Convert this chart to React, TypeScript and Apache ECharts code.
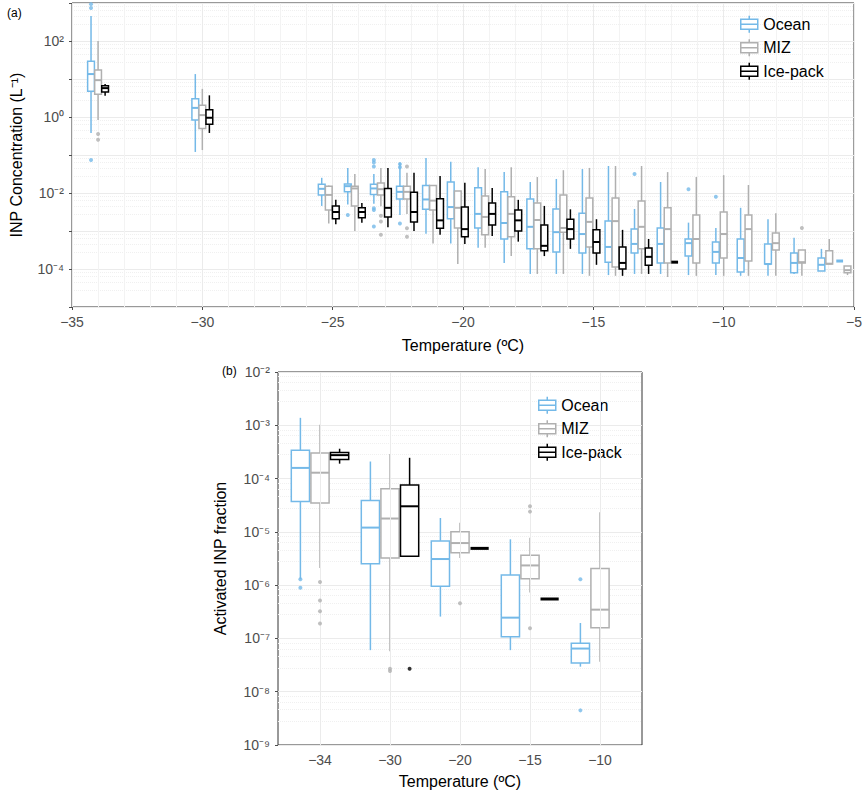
import { useEffect, useRef } from "react";
import * as echarts from "echarts";

// panel (a): [group temperature, low, q1, median, q3, high] as log10 exponents
const oceanA = [
  [-34, -0.42, 0.68, 1.13, 1.47, 2.66], [-30, -0.92, -0.08, 0.24, 0.48, 1.13],
  [-25.15, -2.34, -2.05, -1.89, -1.77, -1.6], [-24.15, -2.3, -1.97, -1.82, -1.76, -1.34],
  [-23.15, -2.28, -2.04, -1.88, -1.77, -1.5], [-22.15, -2.58, -2.16, -1.97, -1.82, -1.2],
  [-21.15, -3.07, -2.43, -2.17, -1.8, -1.08], [-20.2, -3.33, -2.68, -2.37, -1.71, -1.18],
  [-19.15, -3.44, -2.92, -2.55, -1.86, -1.32], [-18.15, -3.84, -3.21, -2.79, -1.97, -1.45],
  [-17.15, -4.13, -3.47, -2.89, -2.16, -1.71], [-16.15, -4.13, -3.55, -3.03, -2.42, -1.63],
  [-15.15, -4.13, -3.58, -3.08, -2.53, -1.37], [-14.15, -4.16, -3.82, -3.42, -2.74, -1.29],
  [-13.15, -4.13, -3.58, -3.34, -2.95, -2.42], [-12.15, -4.13, -3.84, -3.34, -2.92, -1.71],
  [-11.2, -4.16, -3.66, -3.32, -3.21, -2.78], [-10.15, -4.16, -3.84, -3.55, -3.29, -2.92],
  [-9.2, -4.18, -4.08, -3.71, -3.21, -2.39], [-8.15, -4.18, -3.87, -3.87, -3.34, -2.69],
  [-7.15, -4.13, -4.1, -3.84, -3.58, -3.18], [-6.1, -4.05, -4.05, -3.89, -3.71, -3.47],
  [-5.4, -3.79, -3.79, -3.79, -3.79, -3.79],
];
const mizA = [
  [-34, -0.08, 0.6, 0.97, 1.24, 2.0], [-30, -0.87, -0.3, 0.05, 0.31, 0.74],
  [-25.15, -2.8, -2.45, -2.05, -1.82, -1.8], [-24.15, -3.0, -2.34, -1.88, -1.82, -1.5],
  [-23.15, -2.35, -2.05, -1.9, -1.74, -1.34], [-22.15, -2.55, -2.16, -1.97, -1.82, -1.47],
  [-21.15, -3.33, -2.45, -2.2, -1.8, -1.8], [-20.2, -3.87, -2.92, -2.39, -1.95, -1.95],
  [-19.15, -3.44, -3.1, -2.63, -2.08, -1.37], [-18.15, -3.66, -3.15, -2.55, -2.1, -1.32],
  [-17.15, -4.13, -3.47, -2.71, -2.26, -1.58], [-16.15, -4.13, -3.03, -2.92, -2.05, -1.4],
  [-15.15, -4.18, -3.42, -2.76, -2.13, -1.34], [-14.15, -4.18, -3.95, -2.74, -2.13, -1.29],
  [-13.15, -4.13, -3.47, -2.89, -2.21, -1.29], [-12.15, -4.21, -3.84, -2.95, -2.39, -1.45],
  [-11.2, -4.18, -3.84, -3.21, -2.58, -1.58], [-10.15, -4.18, -3.71, -3.08, -2.5, -1.53],
  [-9.2, -4.18, -3.79, -2.95, -2.58, -1.79], [-8.15, -4.18, -3.5, -3.32, -3.05, -2.53],
  [-7.15, -4.18, -3.84, -3.82, -3.5, -3.5], [-6.1, -3.87, -3.87, -3.86, -3.52, -3.21],
  [-5.4, -4.16, -4.1, -4.03, -3.92, -3.92],
];
const iceA = [
  [-34, 0.56, 0.66, 0.76, 0.82, 0.87], [-30, -0.42, -0.19, -0.02, 0.19, 0.57],
  [-25.15, -2.82, -2.68, -2.5, -2.34, -2.18], [-24.15, -2.78, -2.65, -2.5, -2.39, -2.26],
  [-23.15, -2.9, -2.63, -2.39, -1.88, -1.34], [-22.15, -3.0, -2.76, -2.5, -1.98, -1.47],
  [-21.15, -3.1, -2.93, -2.72, -2.15, -1.55], [-20.2, -3.34, -3.15, -2.95, -2.37, -1.73],
  [-19.15, -3.13, -2.84, -2.55, -2.26, -1.87], [-18.15, -3.28, -3.0, -2.72, -2.45, -2.18],
  [-17.15, -3.66, -3.52, -3.39, -2.84, -2.34], [-16.15, -3.47, -3.21, -2.95, -2.69, -2.43],
  [-15.15, -3.89, -3.58, -3.29, -2.97, -2.69], [-14.15, -4.18, -4.0, -3.84, -3.42, -2.97],
  [-13.15, -4.13, -3.9, -3.68, -3.45, -3.21], [-12.15, -3.82, -3.82, -3.82, -3.82, -3.82],
];
const oceanOutA = [
  [-34, 2.97], [-34, 2.87], [-34, -1.13], [-24.15, -2.58], [-23.15, -1.13], [-23.15, -1.2],
  [-23.15, -1.3], [-23.15, -2.4], [-23.15, -2.45], [-23.15, -2.88], [-22.15, -1.24],
  [-22.15, -1.32], [-22.15, -2.8], [-13.15, -1.5], [-11.2, -1.9], [-10.15, -2.1],
];
const mizOutA = [
  [-34, -0.45], [-34, -0.6], [-23.15, -2.6], [-23.15, -2.75], [-23.15, -3.1],
  [-22.15, -1.3], [-22.15, -2.93], [-22.15, -3.15], [-7.15, -2.92],
];

// panel (b): categories
const tempsB = ["-34", "-30", "-20", "-15", "-10"];
const oceanB = [
  [1, -5.89, -4.43, -3.8, -3.47, -2.86], [2, -7.22, -5.6, -4.92, -4.41, -3.68],
  [3, -6.59, -6.02, -5.51, -5.17, -4.74], [4, -7.22, -6.97, -6.61, -5.81, -5.14],
  [5, -7.53, -7.46, -7.19, -7.09, -6.71],
];
const mizB = [
  [1, -5.68, -4.46, -3.89, -3.52, -2.99], [2, -7.24, -5.49, -4.75, -4.19, -3.54],
  [3, -5.49, -5.39, -5.21, -5.0, -4.83], [4, -6.14, -5.88, -5.63, -5.44, -5.11],
  [5, -7.44, -6.8, -6.46, -5.69, -4.63],
];
const iceB = [
  [1, -3.72, -3.64, -3.56, -3.51, -3.44], [2, -5.46, -5.46, -4.52, -4.12, -3.61],
  [3, -5.31, -5.31, -5.31, -5.31, -5.31], [4, -6.26, -6.26, -6.26, -6.26, -6.26],
];
const oceanOutB = [[1, -5.89], [1, -6.05], [5, -5.89], [5, -8.35]];
const mizOutB = [[1, -5.94], [1, -6.29], [1, -6.49], [1, -6.72], [2, -7.57], [2, -7.61], [3, -6.34], [4, -4.52], [4, -4.62], [4, -6.81]];
const iceOutB = [[2, -7.57]];

const COLORS = { Ocean: "#74b9e8", MIZ: "#b0b0b0", "Ice-pack": "#000000" };
const SUP: Record<string, string> = { "-": "⁻", "0": "⁰", "1": "¹", "2": "²", "3": "³", "4": "⁴", "5": "⁵", "6": "⁶", "7": "⁷", "8": "⁸", "9": "⁹" };
const sup = (n: number) => String(n).split("").map((c) => SUP[c]).join("");
const minus = (v: number | string) => String(v).replace("-", "\u2212");
const FONT = "Liberation Sans";

const App = () => {
  const ref = useRef<HTMLDivElement>(null);

  useEffect(() => {
    document.body.style.margin = "0";
    const chart = echarts.init(ref.current!, null, { renderer: "svg" });

    // dodge offsets depending on which series are present in each group
    const sets = [oceanA, mizA, iceA];
    const dodgeA = (si: number, x: number) => {
      const present = sets.map((s) => s.some((d) => d[0] === x));
      const idx = present.slice(0, si).filter(Boolean).length;
      const n = present.filter(Boolean).length;
      if (n === 3) return x + (idx - 1) * 0.27;
      if (n === 2) return x + (idx - 0.5) * 0.3;
      return x + 0.27;
    };
    const boxes = (arr: number[][], si: number, a: boolean) =>
      arr.map((d) => [a ? dodgeA(si, d[0]) : d[0] + (si - 1) * 0.28, ...d.slice(1).map((e) => Math.pow(10, e))]);
    const pts = (arr: number[][], si: number, a: boolean) =>
      arr.map((d) => [a ? dodgeA(si, d[0]) : d[0] + (si - 1) * 0.28, Math.pow(10, d[1])]);

    const makeRender = (color: string, w: number) => (params: any, api: any) => {
      const x = api.value(0);
      const [lo, q1, md, q3, hi] = [1, 2, 3, 4, 5].map((i) => api.value(i));
      const c = (v: number) => api.coord([x, v]);
      const half = (api.coord([x + w / 2, md])[0] - api.coord([x - w / 2, md])[0]) / 2;
      const cx = c(md)[0];
      const style = { stroke: color, lineWidth: 1.5, fill: "none" };
      if (q1 === q3) {
        return {
          type: "rect",
          shape: { x: cx - half, y: c(md)[1] - 1.5, width: half * 2, height: 3 },
          style: { fill: color },
        };
      }
      return {
        type: "group",
        children: [
          { type: "line", shape: { x1: cx, y1: c(hi)[1], x2: cx, y2: c(q3)[1] }, style },
          { type: "line", shape: { x1: cx, y1: c(q1)[1], x2: cx, y2: c(lo)[1] }, style },
          { type: "rect", shape: { x: cx - half, y: c(q3)[1], width: half * 2, height: c(q1)[1] - c(q3)[1] }, style: { ...style, fill: "#fff" } },
          { type: "line", shape: { x1: cx - half, y1: c(md)[1], x2: cx + half, y2: c(md)[1] }, style: { ...style, lineWidth: 2 } },
        ],
      };
    };

    const names = ["Ocean", "MIZ", "Ice-pack"] as const;
    const boxSeries = (arr: number[][], si: number, gi: number, w: number) => ({
      type: "custom",
      name: names[si],
      xAxisIndex: gi,
      yAxisIndex: gi,
      data: boxes(arr, si, gi === 0),
      encode: { x: 0, y: [1, 2, 3, 4, 5] },
      itemStyle: { color: COLORS[names[si]] },
      renderItem: makeRender(COLORS[names[si]], w),
      clip: true,
      z: 2 + si,
    });
    const outSeries = (arr: number[][], si: number, gi: number) => ({
      type: "scatter",
      name: names[si] + " outliers",
      xAxisIndex: gi,
      yAxisIndex: gi,
      data: pts(arr, si, gi === 0),
      symbolSize: 4,
      itemStyle: { color: COLORS[names[si]] },
      z: 5,
    });

    const labelStyle = { color: "#4d4d4d", fontSize: 14, fontFamily: FONT };
    const nameStyle = { color: "#000", fontSize: 16, fontFamily: FONT };
    const logAxis = (gi: number, min: number, max: number, even: boolean, name: string) => ({
      type: "log",
      logBase: 10,
      gridIndex: gi,
      min,
      max,
      name,
      nameLocation: "middle",
      nameGap: 48,
      nameTextStyle: nameStyle,
      axisLine: { show: false },
      axisTick: { show: true, length: 3, lineStyle: { color: "#4d4d4d" } },
      axisLabel: {
        ...labelStyle,
        formatter: (v: number) => {
          const e = Math.round(Math.log10(v));
          return even && e % 2 !== 0 ? "" : "10" + sup(e);
        },
      },
      splitLine: { lineStyle: { color: "#ebebeb" } },
      minorTick: { show: false, splitNumber: 5 },
      minorSplitLine: { show: true, lineStyle: { color: "#f0f0f0", type: "dotted" } },
    });
    const legendIcon = "path://M10,0 V4 M0,4 H20 V16 H0 Z M0,10 H20 M10,16 V20";
    const legend = (left: number, top: number) => ({
      left,
      top,
      orient: "vertical",
      itemGap: 5,
      itemWidth: 18,
      itemHeight: 17,
      textStyle: { fontSize: 16, color: "#000", fontFamily: FONT },
      data: names.map((n) => ({ name: n, icon: legendIcon, itemStyle: { color: "#fff", borderColor: COLORS[n], borderWidth: 1.5 } })),
    });

    chart.setOption({
      animation: false,
      backgroundColor: "#fff",
      legend: [legend(735, 10), legend(533, 391)],
      title: [
        { text: "(a)", left: 2, top: 2, textStyle: { fontSize: 12, fontWeight: "normal", color: "#000", fontFamily: FONT } },
        { text: "(b)", left: 217, top: 360, textStyle: { fontSize: 12, fontWeight: "normal", color: "#000", fontFamily: FONT } },
      ],
      grid: [
        { left: 65, top: 3, width: 797, height: 304, show: true, borderColor: "#333", borderWidth: 1 },
        { left: 278, top: 372, width: 364, height: 374, show: true, borderColor: "#333", borderWidth: 1 },
      ],
      xAxis: [
        {
          type: "value", gridIndex: 0, min: -35, max: -5, interval: 5,
          name: "Temperature (ºC)", nameLocation: "middle", nameGap: 30, nameTextStyle: nameStyle,
          axisLine: { show: false }, axisTick: { length: 3, lineStyle: { color: "#4d4d4d" } },
          axisLabel: { ...labelStyle, formatter: (v: number) => minus(v) },
          splitLine: { lineStyle: { color: "#ebebeb" } },
          minorTick: { show: false, splitNumber: 5 },
          minorSplitLine: { show: true, lineStyle: { color: "#f3f3f3" } },
        },
        {
          type: "value", gridIndex: 1, min: 0.4, max: 5.6,
          name: "Temperature (ºC)", nameLocation: "middle", nameGap: 28, nameTextStyle: nameStyle,
          axisLine: { show: false }, axisTick: { show: false },
          axisLabel: {
            ...labelStyle,
            customValues: [1, 2, 3, 4, 5],
            formatter: (v: number) => minus(tempsB[Math.round(v) - 1] ?? ""),
          },
          splitLine: { show: false },
        },
      ],
      yAxis: [
        logAxis(0, 1e-5, 1e3, true, "INP Concentration (L⁻¹)"),
        { ...logAxis(1, 1e-9, 1e-2, false, "Activated INP fraction"), nameGap: 50 },
      ],
      series: [
        // vertical grid lines in panel (b) at each category
        {
          type: "line", xAxisIndex: 1, yAxisIndex: 1, data: [], silent: true,
          markLine: {
            symbol: "none", silent: true, label: { show: false },
            lineStyle: { color: "#ebebeb", type: "solid", width: 1 },
            data: [1, 2, 3, 4, 5].map((x) => ({ xAxis: x })),
          },
        },
        boxSeries(oceanA, 0, 0, 0.26), boxSeries(mizA, 1, 0, 0.26), boxSeries(iceA, 2, 0, 0.26),
        outSeries(oceanOutA, 0, 0), outSeries(mizOutA, 1, 0),
        boxSeries(oceanB, 0, 1, 0.26), boxSeries(mizB, 1, 1, 0.26), boxSeries(iceB, 2, 1, 0.26),
        outSeries(oceanOutB, 0, 1), outSeries(mizOutB, 1, 1), outSeries(iceOutB, 2, 1),
      ],
    });

    return () => chart.dispose();
  }, []);

  return <div ref={ref} style={{ width: 865, height: 790 }} />;
};

export default App;
